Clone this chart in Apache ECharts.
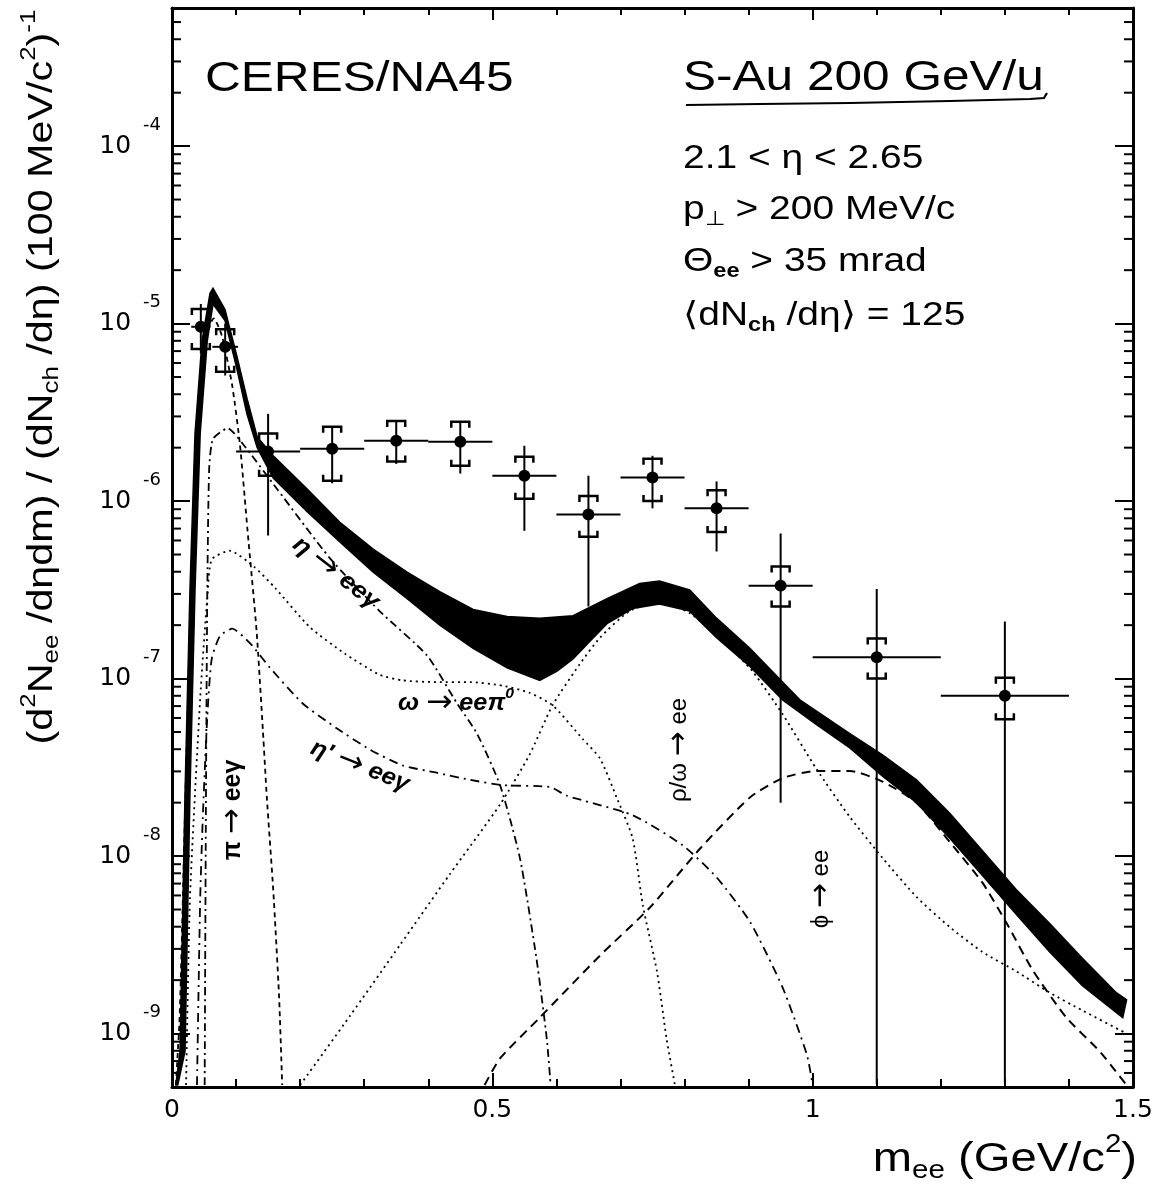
<!DOCTYPE html>
<html>
<head>
<meta charset="utf-8">
<script src="https://cdn.jsdelivr.net/npm/echarts@6/dist/echarts.min.js"></script>
<style>html,body{margin:0;padding:0;background:#fff}#chart{width:1157px;height:1187px}</style>
</head>
<body>
<div id="chart"></div>
<script>
// ---------------- axis ticks ----------------
const xTickLabels = {0: '0', 0.5: '0.5', 1: '1', 1.5: '1.5'};
const yTickExponents = [-9, -8, -7, -6, -5, -4];
const yMinorMultipliers = [2, 3, 4, 5, 6, 7, 8, 9];
const yMinorDecades = [-10, -9, -8, -7, -6, -5, -4];
const Y_MIN = 5e-10, Y_MAX = 6e-4;

// ---------------- data points (CERES S-Au) ----------------
const ptX    = [0.045, 0.083, 0.15, 0.25, 0.35, 0.45, 0.55, 0.65, 0.75, 0.85, 0.95, 1.1, 1.3];
const ptXErr = [0.015, 0.02, 0.05, 0.05, 0.05, 0.05, 0.05, 0.05, 0.05, 0.05, 0.05, 0.1, 0.1];
const ptY    = [9.6e-6, 7.4e-6, 1.90e-6, 1.97e-6, 2.19e-6, 2.16e-6, 1.39e-6, 8.4e-7, 1.36e-6, 9.1e-7, 3.34e-7, 1.32e-7, 8.0e-8];
const statHi = [1.29e-5, 1.0e-5, 3.1e-6, 2.62e-6, 2.83e-6, 2.8e-6, 2.05e-6, 1.39e-6, 1.8e-6, 1.29e-6, 6.56e-7, 3.2e-7, 2.1e-7];
const statLo = [6.8e-6, 5.1e-6, 6.4e-7, 1.26e-6, 1.62e-6, 1.43e-6, 6.8e-7, 2.55e-7, 9.1e-7, 5.2e-7, 2.0e-8, 5.2e-10, 5.2e-10];
const sysHi  = [1.21e-5, 9.3e-6, 2.4e-6, 2.62e-6, 2.83e-6, 2.8e-6, 1.78e-6, 1.07e-6, 1.73e-6, 1.15e-6, 4.28e-7, 1.68e-7, 1.01e-7];
const sysLo  = [7.2e-6, 5.35e-6, 1.39e-6, 1.30e-6, 1.67e-6, 1.58e-6, 1.03e-6, 6.3e-7, 1.0e-6, 6.7e-7, 2.55e-7, 1.0e-7, 5.9e-8];

// ---------------- total cocktail band ----------------
const bandUpperX = [0.006, 0.0125, 0.0203, 0.0281, 0.0359, 0.0468, 0.0593, 0.064, 0.0827, 0.101, 0.117, 0.133, 0.158, 0.211, 0.262, 0.314, 0.367, 0.418, 0.470, 0.523, 0.574, 0.626, 0.679, 0.730, 0.761, 0.808, 0.850, 0.902, 0.953, 0.980, 1.058, 1.109, 1.162, 1.214, 1.265, 1.318, 1.370, 1.421, 1.474, 1.490];
const bandUpperY = [5.13e-10, 7.94e-10, 2.24e-8, 3.24e-7, 2.40e-6, 7.94e-6, 1.48e-5, 1.58e-5, 1.20e-5, 6.61e-6, 3.80e-6, 2.3e-6, 1.8e-6, 1.17e-6, 7.59e-7, 5.37e-7, 3.98e-7, 3.09e-7, 2.45e-7, 2.24e-7, 2.19e-7, 2.26e-7, 2.82e-7, 3.43e-7, 3.55e-7, 3.16e-7, 2.19e-7, 1.48e-7, 9.55e-8, 7.59e-8, 4.90e-8, 3.72e-8, 2.69e-8, 1.74e-8, 1.07e-8, 6.46e-9, 4.17e-9, 2.66e-9, 1.70e-9, 1.55e-9];
const bandLowerX = [0.009, 0.0203, 0.028, 0.036, 0.044, 0.055, 0.064, 0.0827, 0.101, 0.117, 0.133, 0.158, 0.211, 0.262, 0.314, 0.367, 0.418, 0.470, 0.523, 0.574, 0.601, 0.626, 0.652, 0.679, 0.719, 0.761, 0.808, 0.850, 0.902, 0.953, 1.006, 1.058, 1.109, 1.162, 1.214, 1.265, 1.318, 1.370, 1.421, 1.484];
const bandLowerY = [5.13e-10, 7.94e-10, 2.24e-8, 3.24e-7, 2.40e-6, 7.94e-6, 1.29e-5, 1.04e-5, 5.62e-6, 3.09e-6, 2.0e-6, 1.35e-6, 8.71e-7, 5.89e-7, 3.98e-7, 2.82e-7, 2.0e-7, 1.48e-7, 1.15e-7, 9.77e-8, 1.10e-7, 1.29e-7, 1.62e-7, 2.04e-7, 2.48e-7, 2.63e-7, 2.40e-7, 1.70e-7, 1.17e-7, 7.59e-8, 5.50e-8, 4.07e-8, 2.82e-8, 2.0e-8, 1.26e-8, 7.76e-9, 4.68e-9, 2.88e-9, 1.86e-9, 1.23e-9];

// ---------------- cocktail components ----------------
const piX = [0.006, 0.012, 0.02, 0.028, 0.036, 0.045, 0.055, 0.065, 0.078, 0.094, 0.106, 0.118, 0.132, 0.142, 0.148, 0.158, 0.167, 0.172];
const piY = [5.13e-10, 1.26e-9, 1.58e-8, 2.0e-7, 1.26e-6, 4.47e-6, 8.91e-6, 1.07e-5, 8.51e-6, 4.47e-6, 2.09e-6, 6.76e-7, 1.86e-7, 5.01e-8, 2.14e-8, 6.46e-9, 1.66e-9, 5.13e-10];

const etaX = [0.051, 0.053, 0.055, 0.058, 0.064, 0.087, 0.111, 0.164, 0.246, 0.324, 0.398, 0.445, 0.476, 0.512, 0.543, 0.569, 0.585, 0.591];
const etaY = [5.13e-10, 2.14e-8, 2.82e-7, 1.51e-6, 2.24e-6, 2.57e-6, 2.09e-6, 1.17e-6, 4.79e-7, 2.40e-7, 1.35e-7, 7.24e-8, 4.90e-8, 2.51e-8, 9.77e-9, 2.63e-9, 9.33e-10, 5.13e-10];

const omDalX = [0.022, 0.028, 0.044, 0.055, 0.062, 0.090, 0.128, 0.161, 0.215, 0.270, 0.324, 0.360, 0.413, 0.465, 0.516, 0.558, 0.594, 0.641, 0.668, 0.694, 0.719, 0.735, 0.757, 0.772, 0.785];
const omDalY = [5.13e-10, 5.75e-9, 7.76e-8, 2.82e-7, 4.68e-7, 5.25e-7, 4.27e-7, 3.24e-7, 1.95e-7, 1.38e-7, 1.05e-7, 9.77e-8, 9.55e-8, 9.55e-8, 9.12e-8, 8.32e-8, 7.08e-8, 4.57e-8, 3.55e-8, 2.14e-8, 1.26e-8, 5.25e-9, 2.24e-9, 9.33e-10, 5.13e-10];

const etapX = [0.039, 0.044, 0.048, 0.055, 0.062, 0.075, 0.094, 0.122, 0.153, 0.204, 0.257, 0.309, 0.360, 0.413, 0.465, 0.516, 0.590, 0.616, 0.719, 0.797, 0.850, 0.902, 0.953, 0.991, 1.0];
const etapY = [5.13e-10, 5.75e-9, 1.62e-8, 6.03e-8, 1.29e-7, 1.74e-7, 1.91e-7, 1.58e-7, 1.15e-7, 7.24e-8, 5.25e-8, 3.98e-8, 3.24e-8, 2.95e-8, 2.69e-8, 2.51e-8, 2.45e-8, 2.19e-8, 1.70e-8, 1.15e-8, 7.59e-9, 4.27e-9, 1.82e-9, 7.59e-10, 5.13e-10];

const rhoX = [0.2, 0.278, 0.356, 0.434, 0.512, 0.558, 0.594, 0.636, 0.668, 0.714, 0.761, 0.808, 0.866, 0.906, 0.953, 1.006, 1.058, 1.109, 1.162, 1.214, 1.265, 1.318, 1.370, 1.421, 1.490];
const rhoY = [5.13e-10, 1.26e-9, 3.16e-9, 7.94e-9, 1.95e-8, 3.72e-8, 7.08e-8, 1.20e-7, 1.70e-7, 2.40e-7, 2.69e-7, 2.34e-7, 1.55e-7, 1.10e-7, 6.31e-8, 3.09e-8, 1.66e-8, 9.77e-9, 5.89e-9, 3.98e-9, 2.88e-9, 2.24e-9, 1.70e-9, 1.35e-9, 1.0e-9];

const phiX = [0.488, 0.512, 0.574, 0.668, 0.746, 0.824, 0.902, 0.953, 1.006, 1.058, 1.109, 1.162, 1.214, 1.265, 1.303, 1.343, 1.396, 1.448, 1.479, 1.49];
const phiY = [5.13e-10, 7.24e-10, 1.23e-9, 2.75e-9, 5.13e-9, 1.10e-8, 2.14e-8, 2.75e-8, 3.02e-8, 3.02e-8, 2.63e-8, 2.0e-8, 1.20e-8, 7.08e-9, 4.17e-9, 2.29e-9, 1.23e-9, 7.94e-10, 5.75e-10, 5.13e-10];

// ---------------- helpers ----------------
const zip = (xs, ys) => xs.map((x, i) => [x, ys[i]]);
const FONT = 'Liberation Sans';
const SX = 1.18;
const BLACK = '#000';

const yMinorValues = [];
yMinorDecades.forEach(d => yMinorMultipliers.forEach(m => {
  const v = m * Math.pow(10, d);
  if (v > Y_MIN && v < Y_MAX) yMinorValues.push([0, v]);
}));

function curve(name, xs, ys, dash, width) {
  return {
    name, type: 'line', data: zip(xs, ys), showSymbol: false, smooth: 0.2,
    lineStyle: {color: BLACK, width: width || 1.8, type: dash}, z: 3, silent: true
  };
}

function txt(text, x, y, size, opts) {
  opts = opts || {};
  return {
    type: 'text', x, y, rotation: opts.rotation || 0, scaleX: opts.sx || SX, z: 100, silent: true,
    style: {
      text, fill: BLACK, fontSize: size, fontFamily: opts.family || FONT,
      fontWeight: opts.weight || 'normal', fontStyle: opts.italic ? 'italic' : 'normal',
      align: opts.align || 'left', verticalAlign: 'middle', rich: opts.rich
    }
  };
}
function richSet(size, weight, italic) {
  const s = Math.round(size * 0.62);
  const w = weight || 'normal', it = italic ? 'italic' : 'normal';
  return {
    sup: {fontSize: s, fontFamily: FONT, fontWeight: w, fontStyle: it, padding: [0, 0, Math.round(size * 0.75), 0]},
    sub: {fontSize: s, fontFamily: FONT, fontWeight: w, fontStyle: it, padding: [Math.round(size * 0.55), 0, 0, 0]},
    arr: {fontSize: Math.round(size * 1.25), fontFamily: 'DejaVu Sans', fontWeight: 'normal', fontStyle: 'normal'}
  };
}

const axisLine = {show: true, onZero: false, lineStyle: {color: BLACK, width: 3}};

const option = {
  animation: false,
  backgroundColor: '#fff',
  grid: {left: 172, right: 24, top: 8, bottom: 100, show: false},
  xAxis: [
    {
      type: 'value', min: 0, max: 1.5, interval: 0.5, position: 'bottom',
      axisLine, splitLine: {show: false},
      axisTick: {show: true, inside: true, length: 14, lineStyle: {color: BLACK, width: 2}},
      minorTick: {show: true, splitNumber: 5, length: 8, lineStyle: {color: BLACK, width: 2}},
      axisLabel: {
        color: BLACK, fontSize: 25, fontFamily: 'DejaVu Sans', margin: 11,
        formatter: v => (xTickLabels[v] !== undefined ? xTickLabels[v] : '')
      }
    },
    {
      type: 'value', min: 0, max: 1.5, interval: 0.5, position: 'top',
      axisLine, splitLine: {show: false},
      axisTick: {show: true, inside: true, length: 12, lineStyle: {color: BLACK, width: 2}},
      minorTick: {show: true, splitNumber: 5, length: 7, lineStyle: {color: BLACK, width: 2}},
      axisLabel: {show: false}
    }
  ],
  yAxis: [
    {
      type: 'log', logBase: 10, min: Y_MIN, max: Y_MAX, position: 'left',
      axisLine, splitLine: {show: false},
      axisTick: {show: true, inside: true, length: 18, lineStyle: {color: BLACK, width: 2}},
      axisLabel: {
        color: BLACK, margin: 11, showMinLabel: false, showMaxLabel: false,
        formatter: v => {
          const e = Math.log10(v), r = Math.round(e);
          if (Math.abs(e - r) > 1e-6 || yTickExponents.indexOf(r) < 0) return '';
          return '{b|10}{s|' + r + '}';
        },
        rich: {
          b: {fontSize: 25, fontFamily: 'DejaVu Sans', color: BLACK},
          s: {fontSize: 18, fontFamily: 'DejaVu Sans', color: BLACK, padding: [0, 0, 42, 12]}
        }
      }
    },
    {
      type: 'log', logBase: 10, min: Y_MIN, max: Y_MAX, position: 'right',
      axisLine, splitLine: {show: false},
      axisTick: {show: true, inside: true, length: 18, lineStyle: {color: BLACK, width: 2}},
      axisLabel: {show: false}
    }
  ],
  series: [
    // log minor ticks on left and right frame
    {
      type: 'custom', data: yMinorValues, z: 2, silent: true, clip: false,
      renderItem: (params, api) => {
        const v = api.value(1);
        const l = api.coord([0, v]);
        const r = api.coord([1.5, v]);
        return {
          type: 'group', children: [
            {type: 'line', shape: {x1: l[0], y1: l[1], x2: l[0] + 9, y2: l[1]}, style: {stroke: BLACK, lineWidth: 2}},
            {type: 'line', shape: {x1: r[0] - 9, y1: r[1], x2: r[0], y2: r[1]}, style: {stroke: BLACK, lineWidth: 2}}
          ]
        };
      }
    },
    curve('pi Dalitz', piX, piY, [5, 4]),
    curve('eta Dalitz', etaX, etaY, [8, 4, 2, 4]),
    curve('omega Dalitz', omDalX, omDalY, [2, 4]),
    curve('etaprime Dalitz', etapX, etapY, [9, 5, 2, 5]),
    curve('rho/omega', rhoX, rhoY, [2, 4]),
    curve('phi', phiX, phiY, [9, 6], 2),
    // total cocktail band
    {
      type: 'custom', data: [[0.75, 1e-7]], z: 5, silent: true, clip: true,
      renderItem: (params, api) => {
        const pts = [];
        bandUpperX.forEach((x, i) => pts.push(api.coord([x, bandUpperY[i]])));
        for (let i = bandLowerX.length - 1; i >= 0; i--) pts.push(api.coord([bandLowerX[i], bandLowerY[i]]));
        return {type: 'polygon', shape: {points: pts}, style: {fill: BLACK, stroke: BLACK, lineWidth: 1.5}};
      }
    },
    // data points with stat (line) and syst (brackets) errors
    {
      type: 'custom', z: 10, silent: true, clip: true,
      data: ptX.map((x, i) => [x, ptY[i], ptXErr[i], statLo[i], statHi[i], sysLo[i], sysHi[i]]),
      renderItem: (params, api) => {
        const x = api.value(0), y = api.value(1), xe = api.value(2);
        const c = api.coord([x, y]);
        const l = api.coord([x - xe, y]), r = api.coord([x + xe, y]);
        const t = api.coord([x, api.value(4)]), b = api.coord([x, api.value(3)]);
        const ch = api.coord([x, api.value(6)]), cl = api.coord([x, api.value(5)]);
        const w = 9, h = 6;
        const st = {stroke: BLACK, lineWidth: 2, fill: null};
        return {
          type: 'group', children: [
            {type: 'line', shape: {x1: l[0], y1: c[1], x2: r[0], y2: c[1]}, style: st},
            {type: 'line', shape: {x1: c[0], y1: t[1], x2: c[0], y2: b[1]}, style: st},
            {type: 'polyline', shape: {points: [[c[0] - w, ch[1] + h], [c[0] - w, ch[1]], [c[0] + w, ch[1]], [c[0] + w, ch[1] + h]]}, style: {stroke: BLACK, lineWidth: 2.5, fill: null}},
            {type: 'polyline', shape: {points: [[c[0] - w, cl[1] - h], [c[0] - w, cl[1]], [c[0] + w, cl[1]], [c[0] + w, cl[1] - h]]}, style: {stroke: BLACK, lineWidth: 2.5, fill: null}},
            {type: 'circle', shape: {cx: c[0], cy: c[1], r: 6}, style: {fill: BLACK}}
          ]
        };
      }
    }
  ],
  graphic: {
    elements: [
      // axis titles
      txt('(d{sup|2}N{sub|ee} /dηdm) / (dN{sub|ch} /dη) (100 MeV/c{sup|2}){sup|-1}', 42, 377, 35,
          {rotation: Math.PI / 2, align: 'center', rich: richSet(35)}),
      txt('m{sub|ee} (GeV/c{sup|2})', 1137, 1160, 40, {align: 'right', rich: richSet(40)}),
      // header
      txt('CERES/NA45', 205, 79, 42),
      txt('S-Au 200 GeV/u', 683, 78, 42),
      {
        type: 'polyline', z: 100, silent: true,
        shape: {points: [[686, 105], [760, 104], [850, 103], [950, 101], [1030, 99], [1044, 98], [1047, 93]]},
        style: {stroke: BLACK, lineWidth: 2.2, fill: null}
      },
      txt('2.1 < η < 2.65', 683, 159, 33),
      txt('p{sub|⊥} > 200 MeV/c', 683, 210, 33, {rich: richSet(33)}),
      txt('Θ{sub|ee} > 35 mrad', 683, 262, 33, {rich: richSet(33, 'bold')}),
      txt('⟨dN{sub|ch} /dη⟩ = 125', 683, 316, 33, {rich: richSet(33, 'bold')}),
      // curve labels
      txt('η {arr|→} eeγ', 336, 573, 24, {rotation: -0.66, align: 'center', weight: 'bold', italic: true, sx: 1.1, rich: richSet(24, 'bold', true)}),
      txt('ω {arr|→} eeπ{sup|0}', 456, 703, 24, {align: 'center', weight: 'bold', italic: true, sx: 1.05, rich: richSet(24, 'bold', true)}),
      txt('η′ {arr|→} eeγ', 360, 766, 24, {rotation: -0.38, align: 'center', weight: 'bold', italic: true, sx: 1.05, rich: richSet(24, 'bold', true)}),
      txt('π {arr|→} eeγ', 233, 810, 25, {rotation: Math.PI / 2, align: 'center', weight: 'bold', sx: 1.0, rich: richSet(25, 'bold')}),
      txt('ρ/ω {arr|→} ee', 679, 750, 24, {rotation: Math.PI / 2, align: 'center', sx: 1.0, rich: richSet(24)}),
      txt('ϕ {arr|→} ee', 821, 889, 24, {rotation: Math.PI / 2, align: 'center', sx: 1.0, rich: richSet(24)})
    ]
  }
};

const chart = echarts.init(document.getElementById('chart'), null, {renderer: 'canvas'});
chart.setOption(option);
</script>
</body>
</html>
